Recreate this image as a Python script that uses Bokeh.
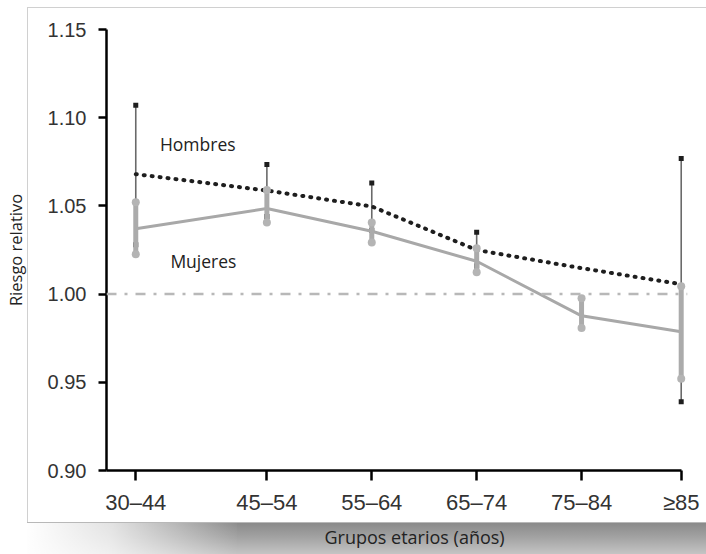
import numpy as np
from bokeh.plotting import figure
from bokeh.models import FixedTicker, Span, Label, Range1d, ColumnDataSource, Title
from bokeh.embed import file_html
from bokeh.resources import INLINE

# ---- data ----
grupos = ["30–44", "45–54", "55–64", "65–74", "75–84", "≥85"]
edad = [37.0, 49.5, 59.5, 69.5, 79.5, 89.0]          # age-group midpoints

hombres_rr = [1.068, 1.0587, 1.0497, 1.025, 1.0147, 1.0056]
hombres_lo = [1.028, 1.044, 1.036, 1.016, np.nan, 0.939]
hombres_hi = [1.107, 1.0734, 1.063, 1.035, np.nan, 1.0768]

mujeres_rr = [1.037, 1.0485, 1.0356, 1.0186, 0.9877, 0.9786]
mujeres_lo = [1.0226, 1.0406, 1.0293, 1.0124, 0.9808, 0.952]
mujeres_hi = [1.052, 1.059, 1.0406, 1.026, 0.9977, 1.0045]

y_ticks = [0.90, 0.95, 1.00, 1.05, 1.10, 1.15]
referencia = 1.00

src_h = ColumnDataSource(dict(x=edad, rr=hombres_rr, lo=hombres_lo, hi=hombres_hi))
src_m = ColumnDataSource(dict(x=edad, rr=mujeres_rr, lo=mujeres_lo, hi=mujeres_hi))

p = figure(width=706, height=554, output_backend="svg", toolbar_location=None,
           x_range=Range1d(34.21, 89.6), y_range=Range1d(0.90, 1.15),
           min_border_left=103, min_border_right=19, min_border_top=29, min_border_bottom=82,
           background_fill_color="white", border_fill_alpha=0.0)
p.grid.visible = False
p.outline_line_color = None

# picture frame with drop shadow (page decoration, drawn behind the transparent border)
bg = ", ".join([
    "linear-gradient(#d0d0d0,#d0d0d0) 27px 7px / 679px 1px no-repeat",
    "linear-gradient(#d0d0d0,#d0d0d0) 27px 7px / 1px 515px no-repeat",
    "linear-gradient(#b8b8b8,#b8b8b8) 27px 522px / 679px 1px no-repeat",
    "linear-gradient(100deg, #ffffff 0%, rgba(255,255,255,0.75) 40%, rgba(255,255,255,0) 100%) 27px 523px / 210px 31px no-repeat",
    "linear-gradient(#8a8a8a 0%, #a2a2a2 45%, #c4c4c4 100%) 27px 523px / 679px 31px no-repeat",
])
p.styles = {"background": bg}

# reference line
p.add_layout(Span(location=referencia, dimension="width", line_color="#b8b8b8",
                  line_width=2.5, line_dash="10 8 3 8"))

# Hombres error bars
p.segment(x0="x", y0="lo", x1="x", y1="hi", source=src_h, line_color="#6a6a6a", line_width=1.6)
p.scatter(x="x", y="hi", source=src_h, marker="square", size=5, fill_color="#1e1e1e", line_color=None)
p.scatter(x="x", y="lo", source=src_h, marker="square", size=5, fill_color="#1e1e1e", line_color=None)
# Hombres dotted line
p.line(x="x", y="rr", source=src_h, line_color="#1e1e1e", line_width=4,
       line_dash="1 7", line_cap="round")

# Mujeres
p.line(x="x", y="rr", source=src_m, line_color="#a8a8a8", line_width=3)
p.segment(x0="x", y0="lo", x1="x", y1="hi", source=src_m, line_color="#ababab", line_width=5)
p.scatter(x="x", y="hi", source=src_m, marker="circle", size=8, fill_color="#b4b4b4", line_color=None)
p.scatter(x="x", y="lo", source=src_m, marker="circle", size=8, fill_color="#b4b4b4", line_color=None)

p.add_layout(Label(x=39.3, y=1.0852, text="Hombres", text_font="Open Sans",
                   text_font_size="17.5px", text_color="#222222", text_baseline="middle"))
p.add_layout(Label(x=40.3, y=1.0186, text="Mujeres", text_font="Open Sans",
                   text_font_size="17.5px", text_color="#222222", text_baseline="middle"))

# axes
for ax in (p.xaxis[0], p.yaxis[0]):
    ax.axis_line_width = 2.5
    ax.axis_line_color = "black"
    ax.major_tick_line_width = 2.5
    ax.major_tick_line_color = "black"
    ax.minor_tick_line_color = None
    ax.major_tick_in = 0
    ax.major_label_text_font = "Liberation Sans"
    ax.major_label_text_color = "#333333"
    ax.axis_label_text_font = "Open Sans"
    ax.axis_label_text_font_style = "normal"
    ax.axis_label_text_color = "#222222"

xa = p.xaxis[0]
xa.ticker = FixedTicker(ticks=edad)
xa.major_label_overrides = {float(k): v for k, v in zip(edad, grupos)}
xa.bounds = (34.21, edad[-1])
xa.major_tick_out = 10
xa.major_label_standoff = 9
xa.major_label_text_font_size = "22px"

# x-axis caption (offset to the right as in the original figure)
p.add_layout(Title(text="Grupos etarios (años)", align="left", offset=218,
                   text_font="Open Sans", text_font_size="18px", text_font_style="normal",
                   text_color="#222222", standoff=11), "below")

ya = p.yaxis[0]
ya.ticker = FixedTicker(ticks=y_ticks)
ya.major_label_overrides = {t: f"{t:.2f}" for t in y_ticks}
ya.major_tick_out = 8
ya.major_label_standoff = 12
ya.major_label_text_font_size = "20px"
ya.axis_label = "Riesgo relativo"
ya.axis_label_text_font_size = "16.5px"
ya.axis_label_standoff = 18

open("out.html", "w").write(file_html(p, INLINE))
